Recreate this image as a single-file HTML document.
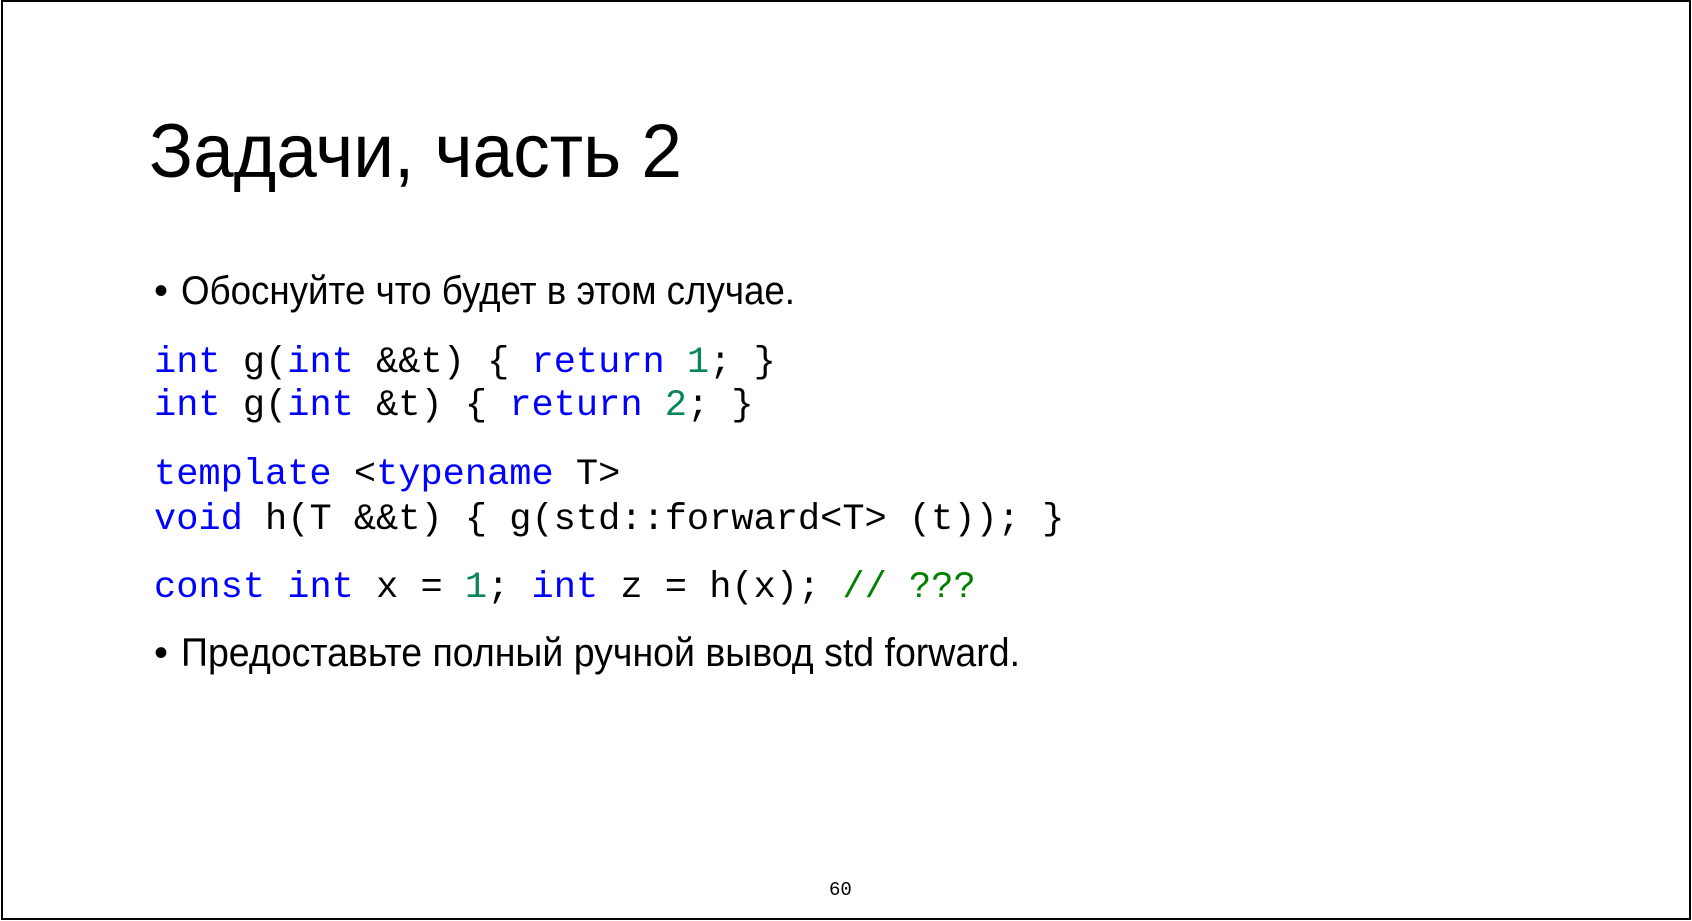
<!DOCTYPE html>
<html><head><meta charset="utf-8"><style>
html,body{margin:0;padding:0;background:#fff;}
svg{display:block;}
.t{font-family:"Liberation Sans",sans-serif;fill:#000;}
.m{font-family:"Liberation Mono",monospace;font-size:37px;fill:#000;white-space:pre;}
.k{fill:#0000ff;} .n{fill:#098658;} .c{fill:#008000;}
</style></head><body>
<svg width="1692" height="921" viewBox="0 0 1692 921" xmlns="http://www.w3.org/2000/svg" xml:space="preserve">
<rect x="2" y="1" width="1688" height="918" fill="#fff" stroke="#000" stroke-width="2"/>
<text class="t" x="149" y="177" font-size="76" textLength="533" lengthAdjust="spacingAndGlyphs">Задачи, часть 2</text>
<text class="t" x="154" y="304" font-size="40">•</text>
<text class="t" x="181" y="304" font-size="40" textLength="614" lengthAdjust="spacingAndGlyphs">Обоснуйте что будет в этом случае.</text>
<text class="m" x="154" y="372"><tspan class="k">int</tspan> g(<tspan class="k">int</tspan> &amp;&amp;t) { <tspan class="k">return</tspan> <tspan class="n">1</tspan>; }</text>
<text class="m" x="154" y="415"><tspan class="k">int</tspan> g(<tspan class="k">int</tspan> &amp;t) { <tspan class="k">return</tspan> <tspan class="n">2</tspan>; }</text>
<text class="m" x="154" y="484"><tspan class="k">template</tspan> &lt;<tspan class="k">typename</tspan> T&gt;</text>
<text class="m" x="154" y="529"><tspan class="k">void</tspan> h(T &amp;&amp;t) { g(std::forward&lt;T&gt; (t)); }</text>
<text class="m" x="154" y="597"><tspan class="k">const</tspan> <tspan class="k">int</tspan> x = <tspan class="n">1</tspan>; <tspan class="k">int</tspan> z = h(x); <tspan class="c">// ???</tspan></text>
<text class="t" x="154" y="666" font-size="40">•</text>
<text class="t" x="181" y="666" font-size="40" textLength="839" lengthAdjust="spacingAndGlyphs">Предоставьте полный ручной вывод std forward.</text>
<text class="m" x="829" y="895" style="font-size:19px">60</text>
</svg>
</body></html>
